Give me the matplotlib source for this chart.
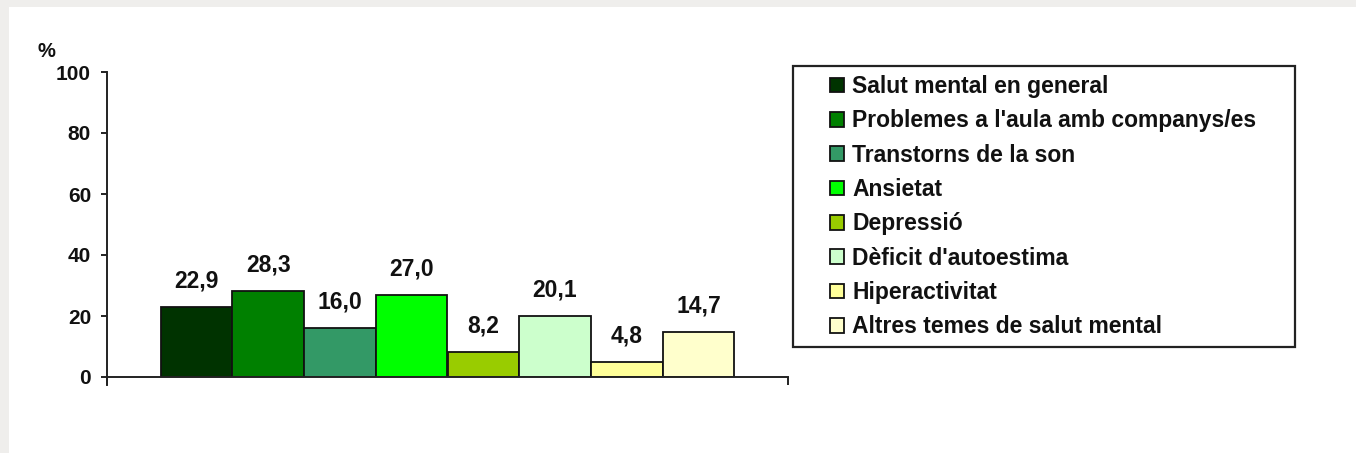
import matplotlib.pyplot as plt
from matplotlib.patches import Rectangle
import numpy as np

# Data
categories = ["Salut mental en general", "Problemes a l'aula amb companys/es",
              "Transtorns de la son", "Ansietat", "Depressió",
              "Dèficit d'autoestima", "Hiperactivitat",
              "Altres temes de salut mental"]
values = [22.9, 28.3, 16.0, 27.0, 8.2, 20.1, 4.8, 14.7]
colors = ["#003300", "#008000", "#339966", "#00ff00",
          "#99cc00", "#ccffcc", "#ffff99", "#ffffcc"]
yticks = [0, 20, 40, 60, 80, 100]

W, H = 1356, 453
plt.rcParams['font.family'] = ['Liberation Sans', 'DejaVu Sans']
plt.rcParams['font.weight'] = 'bold'

fig = plt.figure(figsize=(W / 100, H / 100), dpi=100)
fig.patch.set_facecolor('white')

# gray frame of the screenshot (top and left)
fig.patches.append(Rectangle((0, 1 - 7 / H), 1, 7 / H, transform=fig.transFigure,
                             facecolor='#efeeec', edgecolor='none', zorder=0))
fig.patches.append(Rectangle((0, 0), 9 / W, 1, transform=fig.transFigure,
                             facecolor='#efeeec', edgecolor='none', zorder=0))

ax = fig.add_axes([107 / W, (H - 377) / H, (788 - 107) / W, 305 / H])

x = np.arange(len(values))
bars = ax.bar(x, values, width=1.0, color=colors, edgecolor='#111111',
              linewidth=1.3, label=categories, zorder=2)
ax.bar_label(bars, labels=[f"{v:.1f}".replace('.', ',') for v in values],
             padding=10.5, fontsize=16.5, fontweight='bold', color='#111111')

ax.set_xlim(-1.25, 8.25)
ax.set_ylim(0, 100)
ax.set_yticks(yticks)
ax.set_xticks([-1.25, 8.25])
ax.set_xticklabels([])
ax.tick_params(axis='y', length=4.5, width=1.4, pad=7, labelsize=15, color='#222222')
ax.tick_params(axis='x', length=5.5, width=1.4, color='#222222')
for lab in ax.get_yticklabels():
    lab.set_fontweight('bold')
    lab.set_color('#111111')
for s in ['top', 'right']:
    ax.spines[s].set_visible(False)
for s in ['left', 'bottom']:
    ax.spines[s].set_linewidth(1.4)
    ax.spines[s].set_color('#222222')
ax.spines['left'].set_bounds(-2.5, 100)

fig.text(37 / W, (H - 57) / H, '%', fontsize=14.5, fontweight='bold', color='#111111')

# legend box
fig.patches.append(Rectangle((793 / W, (H - 347) / H), 502 / W, 281 / H,
                             transform=fig.transFigure, facecolor='white',
                             edgecolor='#222222', linewidth=1.6, zorder=1))
leg = fig.legend(loc='upper left', bbox_to_anchor=(830 / W, (H - 75) / H),
                 frameon=False, prop={'size': 16.5, 'weight': 'bold'},
                 handlelength=0.61, handleheight=0.61,
                 handletextpad=0.35, labelspacing=0.495, borderaxespad=0,
                 borderpad=0)
for t in leg.get_texts():
    t.set_color('#111111')

fig.savefig('out.png', dpi=100)
